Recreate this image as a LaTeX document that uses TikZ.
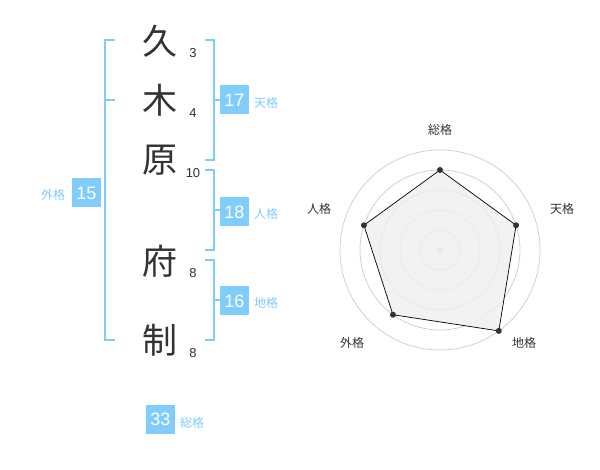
\documentclass[tikz,border=0pt]{standalone}
\usepackage{fontspec}
\usetikzlibrary{calc}
\setmainfont{Liberation Sans}
\newfontfamily\cjk{Noto Sans CJK JP}
\definecolor{kblue}{RGB}{128,204,250}
\definecolor{kdark}{RGB}{51,51,51}
\definecolor{kgrid}{RGB}{204,204,204}
\definecolor{kfill}{RGB}{239,239,239}
\begin{document}
\begin{tikzpicture}[x=1pt,y=-1pt,
  kanji/.style={font=\cjk\fontsize{35}{35}\selectfont,text=kdark,inner sep=0pt},
  stroke/.style={font=\fontsize{13}{13}\selectfont,text=kdark,inner sep=0pt},
  numbox/.style={fill=kblue,text=white,minimum width=29pt,minimum height=29pt,inner sep=0pt,font=\fontsize{18}{18}\selectfont},
  kaku/.style={font=\cjk\fontsize{12}{12}\selectfont,text=kblue,inner sep=0pt},
  rlabel/.style={font=\cjk\fontsize{12}{12}\selectfont,text=kdark,inner sep=0pt},
  brk/.style={draw=kblue,line width=2pt},
  grid/.style={draw=kgrid,line width=0.7pt},
  dot/.style={circle,fill=kdark,minimum size=6pt,inner sep=0pt}]
\useasboundingbox (0,0) rectangle (600,470);
\fill[white] (0,0) rectangle (600,470);
% characters
\node[kanji] (c1) at (160,41) {久};
\node[kanji] (c2) at (160,100) {木};
\node[kanji] (c3) at (160,160) {原};
\node[kanji] (c4) at (160,261) {府};
\node[kanji] (c5) at (160,340) {制};
% stroke counts
\node[stroke] (s1) at (193,53) {3};
\node[stroke] (s2) at (193,113) {4};
\node[stroke] (s3) at (193,173) {10};
\node[stroke] (s4) at (193,273) {8};
\node[stroke] (s5) at (193,353) {8};
% brackets
\draw[brk] (115,40) -- (105,40) -- (105,340) -- (115,340);
\draw[brk] (105,100) -- (115,100);
\draw[brk] (205,40) -- (214,40) -- (214,160) -- (205,160);
\draw[brk] (214,100) -- (220,100);
\draw[brk] (205,170) -- (214,170) -- (214,250) -- (205,250);
\draw[brk] (214,210) -- (220,210);
\draw[brk] (205,260) -- (214,260) -- (214,340) -- (205,340);
\draw[brk] (214,300) -- (220,300);
% boxes and labels
\node[numbox] (b15) at (86.5,193) {15};
\node[kaku] (l15) at (53,195) {外格};
\node[numbox] (b17) at (234.5,100) {17};
\node[kaku] (l17) at (266,103) {天格};
\node[numbox] (b18) at (234.5,212) {18};
\node[kaku] (l18) at (266,214) {人格};
\node[numbox] (b16) at (234.5,301) {16};
\node[kaku] (l16) at (266,303) {地格};
\node[numbox] (b33) at (160.5,419) {33};
\node[kaku] (l33) at (192,423) {総格};
% radar chart
\coordinate (rc) at (440,250);
\foreach \r in {20,40,60,80,100} \draw[grid] (rc) circle (\r);
\fill[kgrid] (rc) circle (3.5);
\coordinate (p1) at ($(rc)+(-90:80)$);
\coordinate (p2) at ($(rc)+(-18:80)$);
\coordinate (p3) at ($(rc)+(54:100)$);
\coordinate (p4) at ($(rc)+(126:80)$);
\coordinate (p5) at ($(rc)+(198:80)$);
\filldraw[fill=kfill,fill opacity=0.8,draw=black,line width=0.7pt] (p1) -- (p2) -- (p3) -- (p4) -- (p5) -- cycle;
\foreach \i in {1,...,5} \node[dot] (d\i) at (p\i) {};
\node[rlabel] (r1) at (440,130) {総格};
\node[rlabel] (r2) at (562,209) {天格};
\node[rlabel] (r3) at (524,343) {地格};
\node[rlabel] (r4) at (352,343) {外格};
\node[rlabel] (r5) at (319,209) {人格};
\end{tikzpicture}
\end{document}
